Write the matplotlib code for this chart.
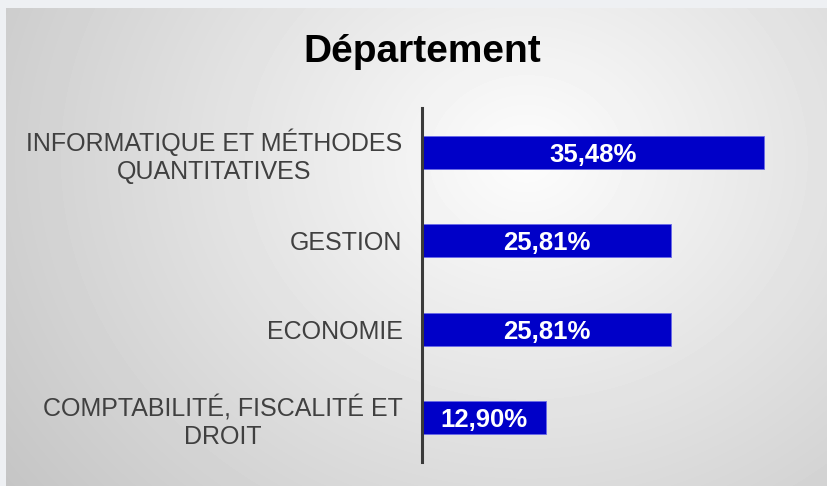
import matplotlib.pyplot as plt
import numpy as np

# ── data ──
categories = ["INFORMATIQUE ET MÉTHODES\nQUANTITATIVES", "GESTION", "ECONOMIE",
              "COMPTABILITÉ, FISCALITÉ ET\nDROIT"]
values = [35.48, 25.81, 25.81, 12.90]
value_labels = ["35,48%", "25,81%", "25,81%", "12,90%"]

plt.rcParams['font.family'] = ['Liberation Sans', 'DejaVu Sans']

fig = plt.figure(figsize=(8.28, 4.86), dpi=100)
fig.patch.set_facecolor("#eef0f3")

# background gradient panel (light centre, grey edges)
bg = fig.add_axes([6 / 828, 0, 1 - 6 / 828, 1 - 8 / 486])
yy, xx = np.mgrid[0:478, 0:822]
d = np.sqrt(((xx - 520) / 560) ** 2 + ((yy - 150) / 480) ** 2)
shade = np.clip(0.99 - 0.19 * d, 0, 1)
bg.imshow(shade, cmap="gray", vmin=0, vmax=1, aspect="auto", interpolation="bilinear")
bg.axis("off")

ax = fig.add_axes([422 / 828, 1 - 462 / 486, 386 / 828, 354 / 486])
ax.patch.set_alpha(0)
y = np.arange(len(categories))
ax.barh(y, values, height=0.375, color="#0000c8", edgecolor="#6a6ae8", linewidth=0.6)
for yi, v, lab in zip(y, values, value_labels):
    ax.text(v / 2, yi + 0.03, lab, ha="center", va="center", color="white",
            fontsize=18.5, fontweight="bold")
ax.set_xlim(0, 40)
ax.set_ylim(3.5, -0.5)
ax.set_yticks(y)
ax.set_yticklabels(categories, fontsize=18, color="#404040", linespacing=1.2)
for t in ax.get_yticklabels():
    t.set_multialignment("center")
ax.tick_params(axis="y", length=0, pad=14)
ax.set_xticks([])
for s in ["top", "right", "bottom"]:
    ax.spines[s].set_visible(False)
ax.spines["left"].set_color("#3a3a3a")
ax.spines["left"].set_linewidth(2.2)

fig.text(422 / 828, 1 - 52 / 486, "Département", ha="center", va="center",
         fontsize=28, fontweight="bold", color="black")

fig.savefig("out.png", dpi=100)
